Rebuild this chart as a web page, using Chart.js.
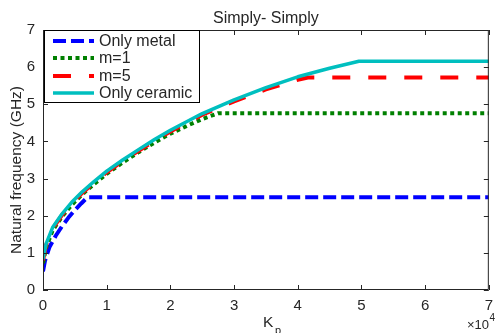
<!DOCTYPE html>
<html>
<head>
<meta charset="utf-8">
<script src="https://cdn.jsdelivr.net/npm/chart.js@4/dist/chart.umd.min.js"></script>
<style>
html,body{margin:0;padding:0;background:#fff;}
#c{display:block;}
</style>
</head>
<body>
<canvas id="c" width="500" height="333"></canvas>
<script>
// ---- Data (Kp in units of 10^4, natural frequency in GHz) ----
const chartTitle = 'Simply- Simply';
const seriesNames = ['Only metal', 'm=1', 'm=5', 'Only ceramic'];
const xTickValues = [0, 1, 2, 3, 4, 5, 6, 7];
const yTickValues = [0, 1, 2, 3, 4, 5, 6, 7];

const metalKp   = [0, 0.03, 0.1, 0.2, 0.3, 0.4, 0.5, 0.6, 0.7, 7];
const metalFreq = [0.5, 0.78, 1.15, 1.46, 1.72, 1.95, 2.15, 2.33, 2.5, 2.5];

const m1Kp   = [0, 0.05, 0.15, 0.3, 0.45, 0.62, 0.8, 1.0, 1.25, 1.5, 1.75, 2.0, 2.3, 2.5, 2.75, 7];
const m1Freq = [0.72, 1.15, 1.6, 1.98, 2.29, 2.58, 2.85, 3.13, 3.43, 3.71, 3.97, 4.21, 4.45, 4.6, 4.76, 4.76];

const m5Kp   = [0, 0.05, 0.15, 0.3, 0.45, 0.62, 0.8, 1.0, 1.25, 1.5, 1.75, 2.0, 2.5, 3.0, 3.5, 4.0, 4.16, 7];
const m5Freq = [0.8, 1.22, 1.65, 2.02, 2.33, 2.62, 2.89, 3.17, 3.47, 3.75, 4.02, 4.27, 4.72, 5.08, 5.40, 5.66, 5.72, 5.72];

const ceramicKp   = [0, 0.05, 0.15, 0.3, 0.45, 0.62, 0.8, 1.0, 1.25, 1.5, 1.75, 2.0, 2.5, 3.0, 3.5, 4.0, 4.5, 4.96, 7];
const ceramicFreq = [0.83, 1.25, 1.68, 2.05, 2.36, 2.65, 2.92, 3.2, 3.5, 3.78, 4.05, 4.3, 4.75, 5.12, 5.45, 5.74, 5.97, 6.16, 6.16];

// ---- Styles ----
const FONT = "'Liberation Sans', Arial, Helvetica, sans-serif";
const TXT = '#262626';
const styles = [
  {color: '#0000FF', width: 4,   dash: [13, 5]},
  {color: '#008000', width: 4,   dash: [4, 3.5]},
  {color: '#FF0000', width: 4,   dash: [18, 18]},
  {color: '#00BFBF', width: 3.5, dash: []}
];
const xs = [metalKp, m1Kp, m5Kp, ceramicKp];
const ys = [metalFreq, m1Freq, m5Freq, ceramicFreq];

const datasets = seriesNames.map((name, i) => ({
  label: name,
  data: xs[i].map((k, j) => ({x: k, y: ys[i][j]})),
  borderColor: styles[i].color,
  backgroundColor: styles[i].color,
  borderWidth: styles[i].width,
  borderDash: styles[i].dash,
  borderCapStyle: 'butt',
  borderJoinStyle: 'round',
  pointRadius: 0,
  tension: 0,
  fill: false,
  order: seriesNames.length - 1 - i
}));

const framePlugin = {
  id: 'framePlugin',
  afterDraw(chart) {
    const {ctx, chartArea: a, scales: {x, y}} = chart;
    ctx.save();
    // box
    ctx.strokeStyle = TXT;
    ctx.lineWidth = 1;
    ctx.beginPath();
    ctx.rect(a.left + 0.5, a.top + 0.5, a.right - a.left - 1, a.bottom - a.top - 1);
    ctx.stroke();
    // inward ticks
    ctx.beginPath();
    xTickValues.forEach(v => {
      const px = Math.round(x.getPixelForValue(v)) + 0.5;
      ctx.moveTo(px, a.bottom); ctx.lineTo(px, a.bottom - 5);
      ctx.moveTo(px, a.top); ctx.lineTo(px, a.top + 5);
    });
    yTickValues.forEach(v => {
      const py = Math.round(y.getPixelForValue(v)) + 0.5;
      ctx.moveTo(a.left, py); ctx.lineTo(a.left + 5, py);
      ctx.moveTo(a.right, py); ctx.lineTo(a.right - 5, py);
    });
    ctx.stroke();

    // title
    ctx.fillStyle = TXT;
    ctx.font = '16px ' + FONT;
    ctx.textAlign = 'center';
    ctx.textBaseline = 'alphabetic';
    ctx.fillText(chartTitle, (a.left + a.right) / 2, 23);

    // y axis label
    ctx.save();
    ctx.translate(21, (a.top + a.bottom) / 2 + 10);
    ctx.rotate(-Math.PI / 2);
    ctx.font = '15.5px ' + FONT;
    ctx.textAlign = 'center';
    ctx.fillText('Natural frequency (GHz)', 0, 0);
    ctx.restore();

    // x axis label K_p
    ctx.textAlign = 'left';
    ctx.font = '15.5px ' + FONT;
    ctx.fillText('K', 263, 327);
    ctx.font = '11px ' + FONT;
    ctx.fillText('p', 275, 334);

    // exponent x10^4
    ctx.textAlign = 'right';
    ctx.font = '13px ' + FONT;
    ctx.fillText('\u00d710', 489, 329);
    ctx.textAlign = 'left';
    ctx.font = '10px ' + FONT;
    ctx.fillText('4', 489.5, 321);

    // legend
    const lx = a.left + 1, ly = a.top, lw = 156, lh = 73;
    ctx.fillStyle = '#fff';
    ctx.fillRect(lx, ly, lw, lh);
    ctx.strokeStyle = '#000';
    ctx.lineWidth = 1;
    ctx.strokeRect(lx + 0.5, ly + 0.5, lw - 1, lh - 1);
    const rowY = [41, 58, 76, 93];
    chart.data.datasets.forEach((ds, i) => {
      ctx.save();
      ctx.strokeStyle = ds.borderColor;
      ctx.lineWidth = ds.borderWidth;
      ctx.lineCap = 'butt';
      ctx.setLineDash(ds.borderDash);
      ctx.beginPath();
      ctx.moveTo(53, rowY[i]);
      ctx.lineTo(94, rowY[i]);
      ctx.stroke();
      ctx.restore();
      ctx.fillStyle = TXT;
      ctx.font = '16px ' + FONT;
      ctx.textAlign = 'left';
      ctx.textBaseline = 'middle';
      ctx.fillText(ds.label, 99, rowY[i] + 1);
    });
    ctx.restore();
  }
};

new Chart(document.getElementById('c'), {
  type: 'line',
  data: {datasets},
  options: {
    responsive: false,
    animation: false,
    devicePixelRatio: 1,
    layout: {padding: {top: 30, right: 3, left: 0, bottom: 0}},
    plugins: {legend: {display: false}, tooltip: {enabled: false}, title: {display: false}},
    scales: {
      x: {
        type: 'linear', min: 0, max: 7,
        afterFit: s => { s.height = 43; },
        afterBuildTicks: s => { s.ticks = xTickValues.map(v => ({value: v})); },
        grid: {display: false, drawTicks: false},
        border: {display: false},
        ticks: {padding: 7, color: TXT, font: {family: FONT, size: 15}, callback: v => String(v), maxRotation: 0, autoSkip: false}
      },
      y: {
        type: 'linear', min: 0, max: 7,
        afterFit: s => { s.width = 43; },
        afterBuildTicks: s => { s.ticks = yTickValues.map(v => ({value: v})); },
        grid: {display: false, drawTicks: false},
        border: {display: false},
        ticks: {padding: 8, color: TXT, font: {family: FONT, size: 15}, callback: v => String(v), autoSkip: false}
      }
    }
  },
  plugins: [framePlugin]
});
</script>
</body>
</html>
